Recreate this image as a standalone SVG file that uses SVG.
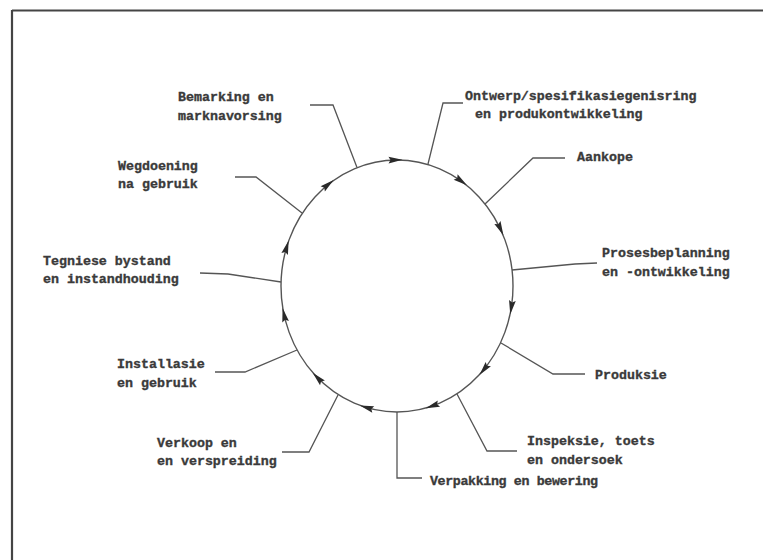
<svg xmlns="http://www.w3.org/2000/svg" xmlns:xlink="http://www.w3.org/1999/xlink" width="763" height="560" viewBox="0 0 763 560">
  <style>
    .frame { stroke: #444; stroke-width: 2.2; fill: none; }
    .ring { stroke: #555; stroke-width: 1.4; fill: none; }
    .lead { stroke: #555; stroke-width: 1.3; fill: none; stroke-linejoin: miter; }
    .lbl { font-family: "Liberation Mono", "Courier New", monospace; font-weight: bold; font-size: 13.3px; fill: #3a3a3a; stroke: #3a3a3a; stroke-width: 0.35; }
    .ah { fill: #2a2a2a; }
  </style>
  <defs>
    <!-- arrowhead pointing along +x, centred on the ring -->
    <path id="ah" class="ah" d="M7.5,0 L-6.5,-3.4 L-4.5,0 L-6.5,3.4 Z"/>
  </defs>

  <rect width="763" height="560" fill="#ffffff"/>

  <!-- page frame -->
  <path class="frame" d="M12,10.5 H763 M12,10 V560"/>

  <!-- life-cycle ring with clockwise arrows -->
  <g id="cycle">
    <ellipse class="ring" cx="397" cy="286" rx="116" ry="126"/>
    <use xlink:href="#ah" transform="translate(395,160) rotate(-1)"/>
    <use xlink:href="#ah" transform="translate(460.9,180.8) rotate(35.6)"/>
    <use xlink:href="#ah" transform="translate(500.2,228.4) rotate(64.7)"/>
    <use xlink:href="#ah" transform="translate(511.4,307) rotate(98.9)"/>
    <use xlink:href="#ah" transform="translate(484.2,369.2) rotate(129)"/>
    <use xlink:href="#ah" transform="translate(432.8,405.8) rotate(160.6)"/>
    <use xlink:href="#ah" transform="translate(367,407.7) rotate(196.2)"/>
    <use xlink:href="#ah" transform="translate(317.9,378.2) rotate(225.4)"/>
    <use xlink:href="#ah" transform="translate(284.2,315.4) rotate(257.5)"/>
    <use xlink:href="#ah" transform="translate(286.5,247.7) rotate(286.4)"/>
    <use xlink:href="#ah" transform="translate(327.8,184.8) rotate(321.1)"/>
  </g>

  <!-- leader lines from ring to labels -->
  <g id="connectors">
    <path class="lead" d="M310,105 H333 L357,167.5"/>
    <path class="lead" d="M463,103 H443 L428,164"/>
    <path class="lead" d="M565,158 H533 L485,204"/>
    <path class="lead" d="M512,270 L575,264 L597,263"/>
    <path class="lead" d="M585,374 H553 L501,343"/>
    <path class="lead" d="M517,451 H487 L457,394"/>
    <path class="lead" d="M422,478 H397 V412"/>
    <path class="lead" d="M282,452 H309 L338,395"/>
    <path class="lead" d="M215,372 H245 L297,350"/>
    <path class="lead" d="M200,273 L228,274 L281,282"/>
    <path class="lead" d="M235,177 H256 L302,213"/>
  </g>

  <g id="bemarking">
    <text class="lbl" x="178" y="100.5">Bemarking en</text>
    <text class="lbl" x="178" y="119.5">marknavorsing</text>
  </g>
  <g id="ontwerp">
    <text class="lbl" x="465" y="99.5">Ontwerp/spesifikasiegenisring</text>
    <text class="lbl" x="475" y="117.5">en produkontwikkeling</text>
  </g>
  <g id="aankope">
    <text class="lbl" x="577" y="160.5">Aankope</text>
  </g>
  <g id="prosesbeplanning">
    <text class="lbl" x="602" y="256.5">Prosesbeplanning</text>
    <text class="lbl" x="602" y="275.5">en -ontwikkeling</text>
  </g>
  <g id="produksie">
    <text class="lbl" x="595" y="378.5">Produksie</text>
  </g>
  <g id="inspeksie">
    <text class="lbl" x="527" y="444.5">Inspeksie, toets</text>
    <text class="lbl" x="527" y="463.5">en ondersoek</text>
  </g>
  <g id="verpakking">
    <text class="lbl" x="430" y="484.5" textLength="168" lengthAdjust="spacing">Verpakking en bewering</text>
  </g>
  <g id="verkoop">
    <text class="lbl" x="157" y="446.5">Verkoop en</text>
    <text class="lbl" x="157" y="464.5">en verspreiding</text>
  </g>
  <g id="installasie">
    <text class="lbl" x="117" y="367.5">Installasie</text>
    <text class="lbl" x="117" y="386.5">en gebruik</text>
  </g>
  <g id="tegniese">
    <text class="lbl" x="43" y="264.5">Tegniese bystand</text>
    <text class="lbl" x="43" y="282.5">en instandhouding</text>
  </g>
  <g id="wegdoening">
    <text class="lbl" x="118" y="169.5">Wegdoening</text>
    <text class="lbl" x="118" y="187.5">na gebruik</text>
  </g>
</svg>
